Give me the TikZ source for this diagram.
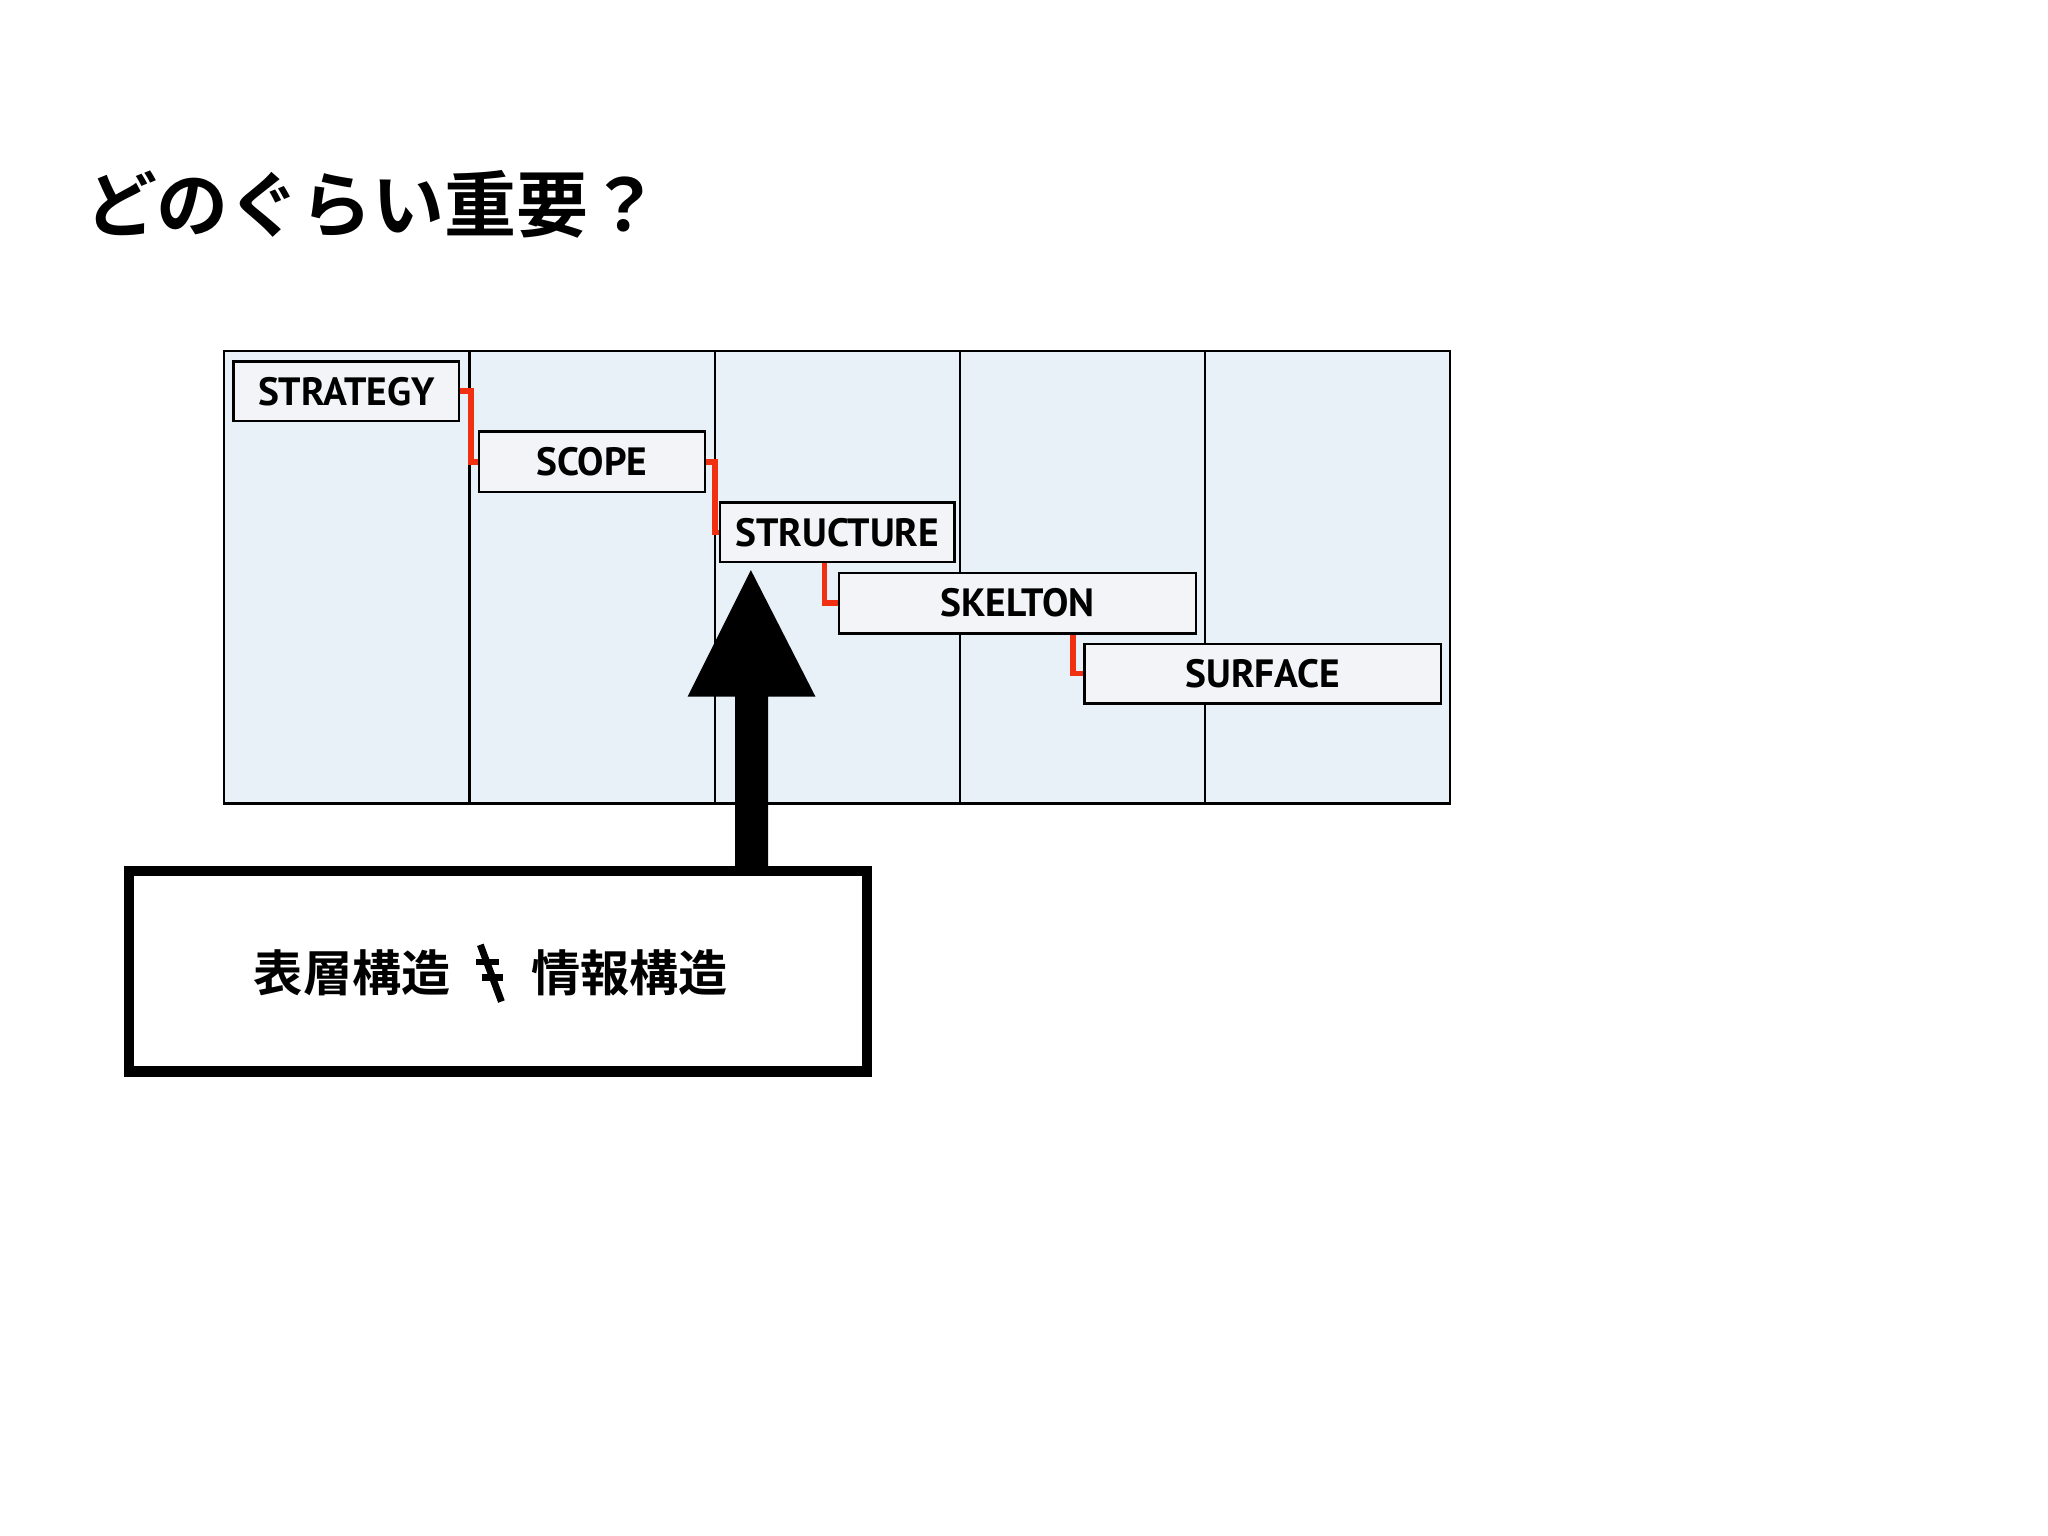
\documentclass[tikz,border=0pt]{standalone}
\usepackage{fontspec}
\newfontfamily\jp{Noto Sans CJK JP Bold}
\newfontfamily\lbl{PT Sans Bold}
\definecolor{panel}{HTML}{E8F0F8}
\definecolor{boxf}{HTML}{F3F4F7}
\definecolor{conn}{HTML}{F03010}
\begin{document}
\begin{tikzpicture}[x=0.01cm,y=-0.01cm,
  col/.style={draw=black,fill=panel,line width=0.5pt},
  stepbox/.style={draw=black,fill=boxf,line width=0.5pt,font=\lbl\fontsize{8.5}{10}\selectfont},
  link/.style={draw=conn,line width=1.2pt}]
\useasboundingbox[fill=white] (0,0) rectangle (1552,1164);
\node[anchor=west,font=\jp\fontsize{15.5}{18}\selectfont] (title) at (52,155) {どのぐらい重要？};
\foreach \i in {0,...,4}{
  \draw[col] (170+\i*185.8,266) rectangle (170+\i*185.8+185.8,609);
}
\path (170,266) coordinate (pnl);
\node[stepbox,minimum width=1.71cm,minimum height=0.45cm] (s1) at (262.5,296.5) {STRATEGY};
\node[stepbox,minimum width=1.71cm,minimum height=0.46cm] (s2) at (448.5,350) {SCOPE};
\node[stepbox,minimum width=1.71cm,minimum height=0.45cm] (s3) at (634.5,403.5) {STRUCTURE};
\node[stepbox,minimum width=2.70cm,minimum height=0.46cm] (s4) at (771,457) {SKELTON};
\node[stepbox,minimum width=2.70cm,minimum height=0.45cm] (s5) at (957,510.5) {SURFACE};
\draw[link] (s1.east) -- ++(8,0) |- (s2.west);
\draw[link] (s2.east) -- ++(7,0) |- (s3.west);
\draw[link] (s3.south west) ++(80,0) coordinate (c3) -- (c3 |- s4.west) -- (s4.west);
\draw[link] (s4.south west) ++(178,0) coordinate (c4) -- (c4 |- s5.west) -- (s5.west);
\node[draw=black,line width=0.08cm,minimum width=5.59cm,minimum height=1.52cm,inner sep=0] (note) at (377.5,736) {};
\fill[black] (557,657) -- (557,528) -- (521,528) -- (569,432) -- (618,528) -- (582,528) -- (582,657) -- cycle;
\coordinate (tip) at (569,432);
\node[font=\jp\fontsize{10.6}{12}\selectfont,anchor=east] (t1) at (354,737) {表層構造};
\node[font=\jp\fontsize{10.6}{12}\selectfont,anchor=west] (t2) at (390,737) {情報構造};
\draw[line width=1.5pt] (364,716) -- (380,759);
\draw[line width=1.5pt] (361,729) -- (378,729);
\draw[line width=1.5pt] (365,741) -- (381,741);
\end{tikzpicture}
\end{document}
